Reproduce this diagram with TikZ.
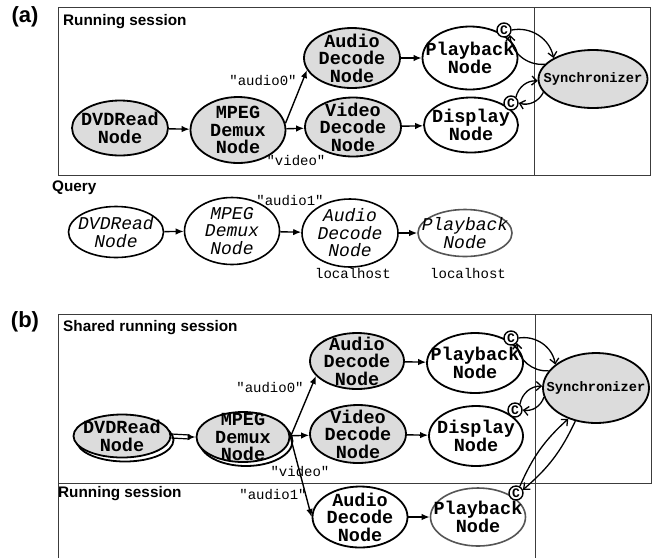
\documentclass[tikz,border=0pt]{standalone}
\usepackage{fontspec}
\setmainfont{Liberation Sans}
\setsansfont{Liberation Sans}
\setmonofont{Liberation Mono}
\usepackage{tikz}
\usetikzlibrary{arrows.meta,shapes.geometric}
\definecolor{nodefill}{HTML}{DCDCDC}
\definecolor{framegray}{HTML}{3C3C3C}
\definecolor{remotegray}{HTML}{555555}
\tikzset{
  procnode/.style={ellipse,draw=black,fill=nodefill,line width=1.8pt,inner sep=0pt},
  localnode/.style={ellipse,draw=black,fill=white,line width=1.8pt,inner sep=0pt},
  querynode/.style={ellipse,draw=black,fill=white,line width=1.6pt,inner sep=0pt},
  remotenode/.style={ellipse,draw=remotegray,fill=white,line width=1.6pt,inner sep=0pt},
  nodetext/.style={align=center,inner sep=0pt,
                   font=\fontsize{18.5}{17.5}\selectfont\ttfamily\bfseries},
  querytext/.style={align=center,inner sep=0pt,
                    font=\fontsize{18}{17.5}\selectfont\ttfamily\itshape},
  synctext/.style={inner sep=0pt,font=\fontsize{13.7}{14}\selectfont\ttfamily\bfseries},
  strlabel/.style={inner sep=0pt,font=\fontsize{14}{14}\selectfont\ttfamily},
  sessiontitle/.style={anchor=west,inner sep=0pt,
                       font=\fontsize{15.3}{16}\selectfont\sffamily\bfseries},
  panellabel/.style={inner sep=0pt,font=\fontsize{22}{22}\selectfont\sffamily\bfseries},
  clockmark/.style={circle,draw=black,fill=white,line width=1.4pt,inner sep=0pt,
                    minimum size=14pt,font=\fontsize{13}{13}\selectfont\ttfamily\bfseries},
  frameline/.style={draw=framegray,line width=0.9pt},
  flowarr/.style={-{Latex[length=8pt,width=6.5pt]},line width=1.4pt},
  syncarr/.style={-{Straight Barb[length=5pt,width=9pt]},line width=1.3pt}
}

\begin{document}
\begin{tikzpicture}[x=1pt,y=-1pt]
  \useasboundingbox (0,0) rectangle (658,558);

  % (a) running session and query
  \node[panellabel] (labA) at (25,17) {(a)};
  \draw[frameline] (58,7) rectangle (650,175);
  \draw[frameline] (534,7) -- (534,175);
  \node[sessiontitle] (runA) at (63,22) {Running session};

  \node[procnode,minimum width=96pt,minimum height=55pt] (dvdA) at (120,128) {};
  \node[nodetext] at (dvdA) {DVDRead\\Node};
  \node[procnode,minimum width=95pt,minimum height=66pt] (mpegA) at (238,130) {};
  \node[nodetext] at (mpegA) {MPEG\\Demux\\Node};
  \node[procnode,minimum width=96pt,minimum height=60pt] (audA) at (352,58) {};
  \node[nodetext] at (audA) {Audio\\Decode\\Node};
  \node[procnode,minimum width=96pt,minimum height=59pt] (vidA) at (353,127) {};
  \node[nodetext] at (vidA) {Video\\Decode\\Node};
  \node[localnode,minimum width=95pt,minimum height=63pt] (playA) at (470,58) {};
  \node[nodetext] at (playA) {Playback\\Node};
  \node[localnode,minimum width=94pt,minimum height=55pt] (dispA) at (471,125) {};
  \node[nodetext] at (dispA) {Display\\Node};
  \node[procnode,minimum width=109pt,minimum height=58pt] (syncA) at (593,79) {};
  \node[synctext] at (syncA) {Synchronizer};
  \node[clockmark] (cPlayA) at (504,30) {C};
  \node[clockmark] (cDispA) at (511,103) {C};

  \draw[flowarr] (dvdA) -- (mpegA);
  \draw[flowarr] (mpegA.8) -- (audA.195);
  \draw[flowarr] (mpegA) -- (vidA);
  \draw[flowarr] (audA) -- (playA);
  \draw[flowarr] (vidA) -- (dispA);
  \node[strlabel] (a0A) at (263,81) {"audio0"};
  \node[strlabel] (vA) at (296,161) {"video"};

  \draw[syncarr] (cPlayA.east) to[bend left=45] (syncA.152);
  \draw[syncarr] (syncA.163) to[bend left=45] (cPlayA.-40);
  \draw[syncarr] (cDispA.50) to[bend left=40] (syncA.182);
  \draw[syncarr] (syncA.195) to[bend left=40] (cDispA.east);

  \node[sessiontitle] (qry) at (52,188) {Query};
  \node[querynode,minimum width=95pt,minimum height=51pt] (dvdQ) at (116,232) {};
  \node[querytext] at (dvdQ) {DVDRead\\Node};
  \node[querynode,minimum width=95pt,minimum height=67pt] (mpegQ) at (232,231) {};
  \node[querytext] at (mpegQ) {MPEG\\Demux\\Node};
  \node[querynode,minimum width=96pt,minimum height=68pt] (audQ) at (350,233) {};
  \node[querytext] at (audQ) {Audio\\Decode\\Node};
  \node[remotenode,minimum width=94pt,minimum height=47pt] (playQ) at (465,233) {};
  \node[querytext] at (playQ) {Playback\\Node};
  \draw[flowarr] (dvdQ) -- (mpegQ);
  \draw[flowarr] (mpegQ) -- (audQ);
  \draw[flowarr] (audQ) -- (playQ);
  \node[strlabel] (a1Q) at (290,201) {"audio1"};
  \node[strlabel] (hostAud) at (353,273) {localhost};
  \node[strlabel] (hostPlay) at (468,273) {localhost};

  % (b) shared running session
  \node[panellabel] (labB) at (25,322) {(b)};
  \draw[frameline] (58,558) -- (58,314) -- (651,314) -- (651,483) -- (58,483);
  \draw[frameline] (535,314) -- (535,558);
  \node[sessiontitle] (sharedB) at (63,328) {Shared running session};
  \node[sessiontitle] (runB) at (58,494) {Running session};

  \node[localnode,minimum width=97pt,minimum height=43pt] (dvdBcopy) at (125,440) {};
  \node[procnode,minimum width=97pt,minimum height=43pt] (dvdB) at (122,436) {};
  \node[nodetext] at (dvdB) {DVDRead\\Node};
  \node[localnode,minimum width=93pt,minimum height=50pt] (mpegBcopy) at (246,441) {};
  \node[procnode,minimum width=93pt,minimum height=50pt] (mpegB) at (243,437) {};
  \node[nodetext] at (mpegB) {MPEG\\Demux\\Node};
  \node[procnode,minimum width=94pt,minimum height=56pt] (audB) at (357,361) {};
  \node[nodetext] at (audB) {Audio\\Decode\\Node};
  \node[procnode,minimum width=96pt,minimum height=58pt] (vidB) at (358,434) {};
  \node[nodetext] at (vidB) {Video\\Decode\\Node};
  \node[localnode,minimum width=96pt,minimum height=60pt] (playB) at (475,363) {};
  \node[nodetext] at (playB) {Playback\\Node};
  \node[localnode,minimum width=94pt,minimum height=60pt] (dispB) at (476,436) {};
  \node[nodetext] at (dispB) {Display\\Node};
  \node[procnode,minimum width=106pt,minimum height=70pt] (syncB) at (596,388) {};
  \node[synctext] at (syncB) {Synchronizer};
  \node[localnode,minimum width=95pt,minimum height=61pt] (aud2B) at (360,517) {};
  \node[nodetext] at (aud2B) {Audio\\Decode\\Node};
  \node[remotenode,minimum width=95pt,minimum height=58pt] (play2B) at (478,517) {};
  \node[nodetext] at (play2B) {Playback\\Node};
  \node[clockmark] (cPlayB) at (511,338) {C};
  \node[clockmark] (cDispB) at (515,410) {C};
  \node[clockmark] (cPlay2B) at (516,493) {C};

  \draw[line width=1.2pt] ([yshift=2pt]dvdB.east) -- ([yshift=2pt,xshift=-6pt]mpegB.west);
  \draw[line width=1.2pt] ([yshift=-2pt]dvdB.east) -- ([yshift=-2pt,xshift=-6pt]mpegB.west);
  \draw[flowarr] ([xshift=-7pt]mpegB.west) -- (mpegB.west);
  \draw[flowarr] (mpegB.east) -- (audB.200);
  \draw[flowarr] (mpegB) -- (vidB);
  \draw[flowarr] (mpegB.east) -- (aud2B.west);
  \draw[flowarr] (audB) -- (playB);
  \draw[flowarr] (vidB) -- (dispB);
  \draw[flowarr] (aud2B) -- (play2B);
  \node[strlabel] (a0B) at (270,388) {"audio0"};
  \node[strlabel] (vB) at (300,472) {"video"};
  \node[strlabel] (a1B) at (273,495) {"audio1"};

  \draw[syncarr] (cPlayB.east) to[bend left=45] (syncB.150);
  \draw[syncarr] (syncB.160) to[bend left=45] (cPlayB.-40);
  \draw[syncarr] (cDispB.50) to[bend left=40] (syncB.178);
  \draw[syncarr] (syncB.190) to[bend left=40] (cDispB.east);
  \draw[syncarr] (cPlay2B.60) to[bend left=12] (syncB.228);
  \draw[syncarr] (syncB.238) to[bend left=12] (cPlay2B.25);
\end{tikzpicture}
\end{document}
